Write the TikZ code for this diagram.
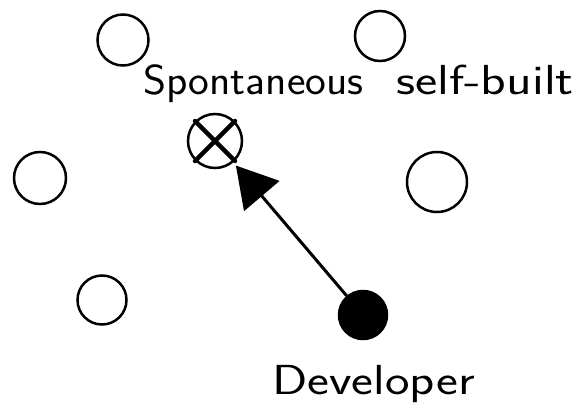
\documentclass[tikz,border=0pt]{standalone}
\usetikzlibrary{arrows.meta}
\begin{document}
\begin{tikzpicture}[x=1pt,y=-1pt]
\tikzset{
  site/.style={circle, draw, line width=2.5pt, inner sep=0pt},
  lab/.style={font=\sffamily\fontsize{42}{46}\selectfont, inner sep=0pt, anchor=base west},
  crossline/.style={line width=4.5pt, line cap=round},
  link/.style={line width=3pt, -{Triangle[length=40pt,width=46pt]}, shorten >=4pt}
}
\useasboundingbox (0,0) rectangle (581,420);
\node[site, minimum size=51pt] (c1) at (123,40) {};
\node[site, minimum size=50pt] (c2) at (380,36) {};
\node[site, minimum size=52pt] (c3) at (40,178) {};
\node[site, minimum size=60pt] (c4) at (437,182) {};
\node[site, minimum size=49pt] (c5) at (102,300) {};
\node[site, minimum size=54pt] (x) at (215,141) {};
\draw[crossline] (x.north west) -- (x.south east);
\draw[crossline] (x.north east) -- (x.south west);
\node[site, fill=black, minimum size=48pt] (dev) at (363,315) {};
\node[lab, xscale=1.05] (l1) at (143,94) {Spontaneous};
\node[lab, xscale=1.26] (l2) at (396,95) {self-built};
\node[lab, xscale=1.24] (l3) at (272,394) {Developer};
\draw[link] (dev) -- (x);
\end{tikzpicture}
\end{document}
